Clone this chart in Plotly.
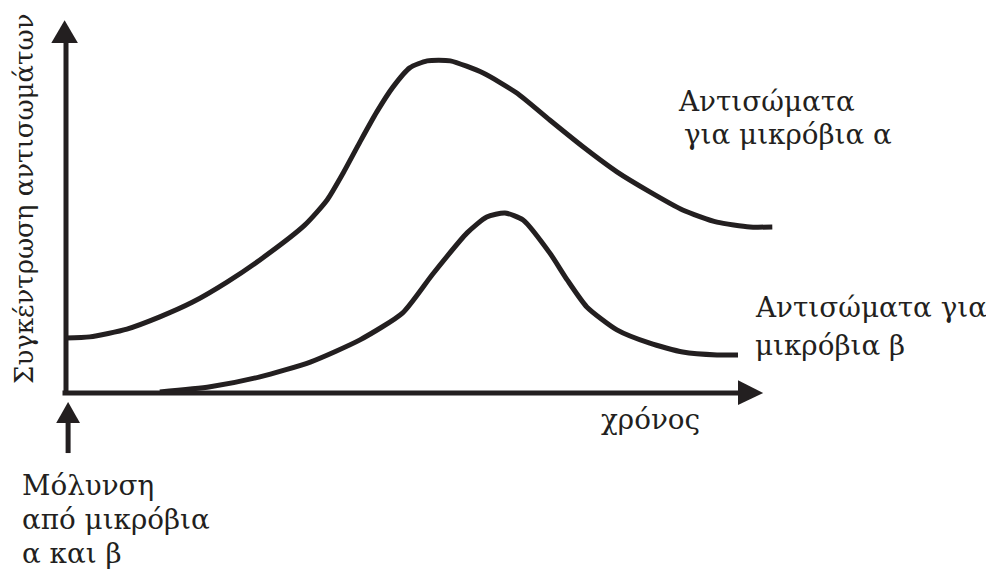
import plotly.graph_objects as go

# antibody curves (time 0-100, concentration 0-100)
t_alpha = [0, 3.4, 8.7, 13.4, 18.1, 23.0, 27.7, 34.1, 37.3, 39.6, 42.0, 44.4, 46.7, 49.1, 51.6,
           54.9, 59.6, 64.4, 69.1, 73.9, 78.7, 83.4, 88.1, 93.0, 97.7, 100.9]
c_alpha = [14.6, 14.9, 17.0, 20.3, 24.3, 29.7, 35.7, 45.1, 51.9, 59.2, 67.6, 75.7, 82.4, 87.6, 89.5,
           89.5, 86.2, 80.8, 73.5, 66.2, 59.5, 54.1, 49.2, 45.9, 44.6, 44.6]

t_beta = [13.4, 20.6, 27.7, 34.9, 42.0, 48.1, 52.4, 57.3, 60.1, 62.7, 65.3, 69.1, 71.6, 74.4,
          78.7, 83.4, 88.1, 93.0, 96.0]
c_beta = [0, 1.4, 4.1, 8.1, 14.1, 21.4, 31.9, 43.0, 47.3, 48.4, 46.5, 37.6, 30.3, 23.0,
          16.8, 13.2, 10.8, 10.0, 10.0]

label_alpha = ["Αντισώματα", "για μικρόβια α"]
label_beta = ["Αντισώματα για", "μικρόβια β"]
infection_label = ["Μόλυνση", "από μικρόβια", "α και β"]
x_title = "χρόνος"
y_title = "Συγκέντρωση αντισωμάτων"

W, H = 986, 571
FONT = "DejaVu Serif, serif"
SIZE = 27.8
INK = "#231f20"


def px(x):
    return x / W


def py(y):
    return 1 - y / H


fig = go.Figure()
fig.add_trace(go.Scatter(x=t_alpha, y=c_alpha, mode="lines",
                         line=dict(color=INK, width=5, shape="spline", smoothing=0.6)))
fig.add_trace(go.Scatter(x=t_beta, y=c_beta, mode="lines",
                         line=dict(color=INK, width=5, shape="spline", smoothing=0.6)))

shapes = [
    # y axis
    dict(type="line", x0=0, x1=0, y0=-0.8, y1=95, line=dict(color=INK, width=5)),
    dict(type="path", path="M -2.1 94.3 L 1.7 94.3 L -0.2 100.5 Z", fillcolor=INK, line=dict(width=0)),
    # x axis
    dict(type="line", x0=-0.5, x1=96.5, y0=-0.3, y1=-0.3, line=dict(color=INK, width=5)),
    dict(type="path", path="M 96 3.2 L 96 -3.5 L 99.6 -0.3 Z", fillcolor=INK, line=dict(width=0)),
    # infection arrow
    dict(type="line", x0=0.3, x1=0.3, y0=-16.5, y1=-8, line=dict(color=INK, width=5)),
    dict(type="path", path="M -1.4 -8.4 L 2.0 -8.4 L 0.3 -2.7 Z", fillcolor=INK, line=dict(width=0)),
]

annotations = []


def text(s, x, y, **kw):
    annotations.append(dict(text=s, x=px(x), y=py(y), xref="paper", yref="paper",
                            xanchor="left", yanchor="middle", showarrow=False,
                            font=dict(family=FONT, size=SIZE, color=INK), **kw))


text(label_alpha[0], 676, 102)
text(label_alpha[1], 682, 135)
text(label_beta[0], 753, 307)
text(label_beta[1], 753, 345)
text(x_title, 599, 419)
for i, s in enumerate(infection_label):
    text(s, 20, 485 + i * 34)
annotations.append(dict(text=y_title, x=px(24), y=py(199), xref="paper", yref="paper",
                        xanchor="center", yanchor="middle", showarrow=False, textangle=-90,
                        font=dict(family=FONT, size=26, color=INK)))

fig.update_layout(
    width=W, height=H,
    margin=dict(l=0, r=0, t=0, b=0),
    paper_bgcolor="white", plot_bgcolor="white",
    showlegend=False,
    xaxis=dict(range=[-66 / 7, 920 / 7], visible=False, fixedrange=True),
    yaxis=dict(range=[-179 / 3.7, 392 / 3.7], visible=False, fixedrange=True),
    shapes=shapes,
    annotations=annotations,
)

# page body has a default 8px margin; drop it so the figure sits at the window corner
fig.write_html("out.html", config={"displayModeBar": False},
               post_script="document.body.style.margin = '0';")
